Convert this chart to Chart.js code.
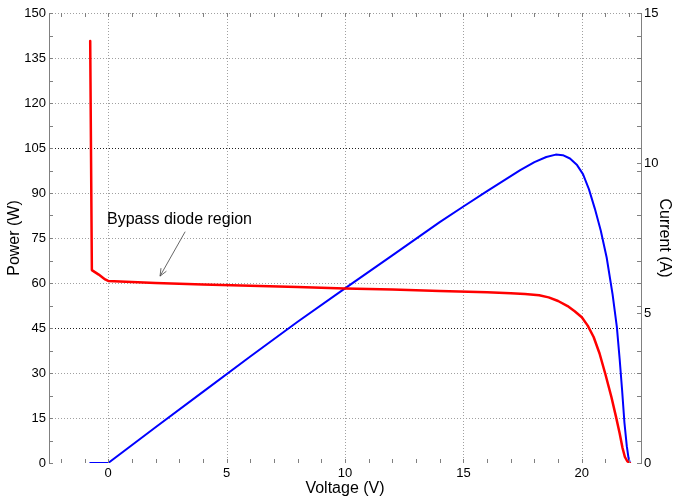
<!DOCTYPE html>
<html>
<head>
<meta charset="utf-8">
<script src="https://cdn.jsdelivr.net/npm/chart.js@4.4.0/dist/chart.umd.min.js"></script>
<style>
html, body { margin: 0; padding: 0; background: #fff; }
canvas { display: block; }
</style>
</head>
<body>
<canvas id="myChart" width="674" height="501"></canvas>
<script>
// I-V curve (red, right axis)
const currentVolts = [-0.76, -0.69, -0.4, -0.13, 0, 2, 4, 6, 8, 10, 12, 14, 16, 17, 17.6, 18.2, 18.6, 19.0, 19.4, 19.7, 20.0, 20.25, 20.5, 20.75, 21.0, 21.25, 21.45, 21.6, 21.72, 21.82, 21.92, 22.03];
const currentAmps  = [14.07, 6.43, 6.28, 6.12, 6.07, 6.0, 5.95, 5.91, 5.87, 5.82, 5.78, 5.73, 5.69, 5.66, 5.63, 5.59, 5.52, 5.4, 5.23, 5.06, 4.86, 4.58, 4.2, 3.65, 2.95, 2.2, 1.52, 0.98, 0.5, 0.2, 0.06, 0];

// P-V curve (blue, left axis)
const powerVolts = [-0.76, 0, 2, 4, 6, 8, 10, 12, 14, 15, 16, 16.8, 17.4, 18.0, 18.5, 18.9, 19.2, 19.5, 19.8, 20.05, 20.3, 20.55, 20.8, 21.05, 21.3, 21.48, 21.6, 21.7, 21.8, 21.9, 21.97, 22.03];
const powerWatts = [0, 0, 11.9, 23.7, 35.5, 47.1, 58.2, 69.2, 80.3, 85.5, 90.6, 94.6, 97.6, 100.3, 102.0, 102.8, 102.6, 101.5, 99.3, 96.3, 91.3, 84.8, 77.5, 68.5, 56.2, 45.4, 34.5, 24.5, 13.5, 5.6, 1.8, 0];

// tick labels
const xTicks = [0, 5, 10, 15, 20];
const powerTicks = [0, 15, 30, 45, 60, 75, 90, 105, 120, 135, 150];
const currentTicks = [0, 5, 10, 15];
// small inward tick marks
const xMinorTicks = [-2, -1, 0, 1, 2, 3, 4, 5, 6, 7, 8, 9, 10, 11, 12, 13, 14, 15, 16, 17, 18, 19, 20, 21, 22];
const powerMinorTicks = [0, 7.5, 15, 22.5, 30, 37.5, 45, 52.5, 60, 67.5, 75, 82.5, 90, 97.5, 105, 112.5, 120, 127.5, 135, 142.5, 150];
const darkGrid = [45, 105];

const noteText = 'Bypass diode region';
const notePos = [-0.05, 81];
const arrowFrom = [3.25, 77.1];
const arrowTo = [2.19, 62.3];

const font = "'Liberation Sans', Arial, sans-serif";

const toPoints = (xs, ys) => xs.map((x, i) => ({ x: x, y: ys[i] }));

// dotted grid, drawn under the curves
const dottedGrid = {
    id: 'dottedGrid',
    beforeDatasetsDraw(chart) {
        const c = chart.ctx;
        const a = chart.chartArea;
        const sx = chart.scales.x, sy = chart.scales.y;
        c.save();
        c.lineWidth = 1;
        c.setLineDash([1, 2]);
        c.strokeStyle = '#a0a0a0';
        c.beginPath();
        xTicks.forEach(v => {
            const px = Math.round(sx.getPixelForValue(v)) + 0.5;
            c.moveTo(px, a.top); c.lineTo(px, a.bottom);
        });
        powerTicks.forEach(v => {
            if (v === 0 || darkGrid.includes(v)) return;
            const py = Math.round(sy.getPixelForValue(v)) + 0.5;
            c.moveTo(a.left, py); c.lineTo(a.right, py);
        });
        c.stroke();
        c.strokeStyle = '#202020';
        c.beginPath();
        darkGrid.forEach(v => {
            const py = Math.round(sy.getPixelForValue(v)) + 0.5;
            c.moveTo(a.left, py); c.lineTo(a.right, py);
        });
        c.stroke();
        c.restore();
    }
};

const extras = {
    id: 'extras',
    afterDraw(chart) {
        const c = chart.ctx;
        const a = chart.chartArea;
        const sx = chart.scales.x, sy = chart.scales.y, sy1 = chart.scales.y1;
        c.save();
        c.strokeStyle = '#808080';
        c.lineWidth = 1;
        c.beginPath();
        xMinorTicks.forEach(v => {
            const px = Math.round(sx.getPixelForValue(v)) + 0.5;
            c.moveTo(px, a.bottom); c.lineTo(px, a.bottom - 4);
            c.moveTo(px, a.top); c.lineTo(px, a.top + 4);
        });
        powerMinorTicks.forEach(v => {
            const py = Math.round(sy.getPixelForValue(v)) + 0.5;
            c.moveTo(a.left, py); c.lineTo(a.left + 4, py);
            c.moveTo(a.right, py); c.lineTo(a.right - 4, py);
        });
        currentTicks.forEach(v => {
            const py = Math.round(sy1.getPixelForValue(v)) + 0.5;
            c.moveTo(a.right, py); c.lineTo(a.right - 4, py);
        });
        c.stroke();

        // annotation
        c.fillStyle = '#000';
        c.font = '16px ' + font;
        c.textAlign = 'left';
        c.textBaseline = 'middle';
        c.fillText(noteText, sx.getPixelForValue(notePos[0]), sy.getPixelForValue(notePos[1]));

        const x1 = sx.getPixelForValue(arrowFrom[0]), y1 = sy.getPixelForValue(arrowFrom[1]);
        const x2 = sx.getPixelForValue(arrowTo[0]), y2 = sy.getPixelForValue(arrowTo[1]);
        const ang = Math.atan2(y2 - y1, x2 - x1);
        c.strokeStyle = '#404040';
        c.lineWidth = 0.8;
        c.beginPath();
        c.moveTo(x1, y1); c.lineTo(x2, y2);
        c.moveTo(x2, y2); c.lineTo(x2 - 8 * Math.cos(ang - 0.4), y2 - 8 * Math.sin(ang - 0.4));
        c.moveTo(x2, y2); c.lineTo(x2 - 8 * Math.cos(ang + 0.4), y2 - 8 * Math.sin(ang + 0.4));
        c.stroke();
        c.restore();
    }
};

const ctx = document.getElementById('myChart').getContext('2d');

const myChart = new Chart(ctx, {
    type: 'line',
    data: {
        datasets: [{
            label: 'Current',
            data: toPoints(currentVolts, currentAmps),
            borderColor: '#ff0000',
            borderWidth: 2.5,
            borderJoinStyle: 'round',
            borderCapStyle: 'round',
            pointRadius: 0,
            tension: 0,
            yAxisID: 'y1'
        }, {
            label: 'Power',
            data: toPoints(powerVolts, powerWatts),
            borderColor: '#0000ff',
            borderWidth: 2,
            borderJoinStyle: 'round',
            borderCapStyle: 'round',
            pointRadius: 0,
            tension: 0,
            yAxisID: 'y'
        }]
    },
    options: {
        responsive: false,
        animation: false,
        layout: { padding: { top: 13, left: 0, right: 0, bottom: 0 } },
        plugins: {
            legend: { display: false },
            tooltip: { enabled: false }
        },
        scales: {
            x: {
                type: 'linear',
                position: 'bottom',
                min: -2.5,
                max: 22.5,
                afterBuildTicks: s => { s.ticks = xTicks.map(v => ({ value: v })); },
                afterFit: s => { s.height = 38; },
                grid: { display: false, drawTicks: false },
                border: { display: false },
                ticks: { color: '#000', font: { family: font, size: 13 }, padding: 3, maxRotation: 0 },
                title: { display: true, text: 'Voltage (V)', color: '#000', font: { family: font, size: 16, lineHeight: 1 }, padding: { top: 0, bottom: 4 } }
            },
            y: {
                position: 'left',
                min: 0,
                max: 150,
                afterBuildTicks: s => { s.ticks = powerTicks.map(v => ({ value: v })); },
                afterFit: s => { s.width = 49; },
                grid: { display: false, drawTicks: false },
                border: { display: true, color: '#808080', width: 1 },
                ticks: { color: '#000', font: { family: font, size: 13 }, padding: 3 },
                title: { display: true, text: 'Power (W)', color: '#000', font: { family: font, size: 16, lineHeight: 1 }, padding: { top: 7, bottom: 0 } }
            },
            y1: {
                position: 'right',
                min: 0,
                max: 15,
                afterBuildTicks: s => { s.ticks = currentTicks.map(v => ({ value: v })); },
                afterFit: s => { s.width = 33; },
                grid: { display: false, drawTicks: false },
                border: { display: true, color: '#808080', width: 1 },
                ticks: { color: '#000', font: { family: font, size: 13 }, padding: 3 },
                title: { display: true, text: 'Current (A)', color: '#000', font: { family: font, size: 16, lineHeight: 1 }, padding: { top: 2, bottom: 0 } }
            }
        }
    },
    plugins: [dottedGrid, extras]
});
</script>
</body>
</html>
